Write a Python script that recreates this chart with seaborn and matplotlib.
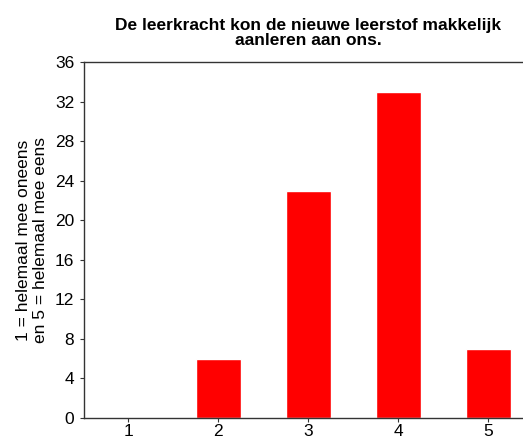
import pandas as pd
import matplotlib.pyplot as plt
import seaborn as sns

# -----------------------------
# Data
# -----------------------------
answers = ["1", "2", "3", "4", "5"]
counts = [0, 6, 23, 33, 7]
y_ticks = [0, 4, 8, 12, 16, 20, 24, 28, 32, 36]

df = pd.DataFrame({"answer": answers, "count": counts})

# -----------------------------
# Settings
# -----------------------------
sns.set_style("ticks")
plt.rcParams["font.family"] = ["Liberation Sans", "DejaVu Sans"]
plt.rcParams["text.color"] = "black"
plt.rcParams["axes.labelcolor"] = "black"
plt.rcParams["xtick.labelcolor"] = "black"
plt.rcParams["ytick.labelcolor"] = "black"

fig = plt.figure(figsize=(5.23, 4.37), dpi=100)
ax = fig.add_axes([0.1606, 0.0435, 0.857, 0.8145])

sns.barplot(data=df, x="answer", y="count", color="#ff0000",
            saturation=1, width=0.5, ax=ax)

ax.set_title("De leerkracht kon de nieuwe leerstof makkelijk\naanleren aan ons.",
             fontsize=12.5, fontweight="bold", pad=12, linespacing=1.02)
ax.set_xlabel("")
ax.set_ylabel("1 = helemaal mee oneens\nen 5 = helemaal mee eens",
              fontsize=12.5, linespacing=1.15, labelpad=5)
ax.set_ylim(0, 36)
ax.set_yticks(y_ticks)
ax.set_xlim(-0.49, 4.49)
ax.tick_params(axis="both", labelsize=12.5, length=3, width=0.8,
               color="#333333")
ax.tick_params(axis="y", pad=4)
ax.tick_params(axis="x", pad=1)
for s in ax.spines.values():
    s.set_color("#333333")
    s.set_linewidth(1.0)

fig.savefig("out.png", dpi=100)
